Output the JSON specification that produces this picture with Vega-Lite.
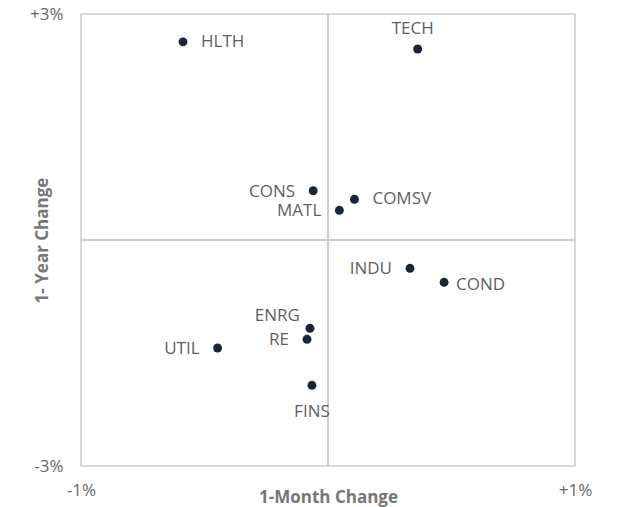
{
  "$schema": "https://vega.github.io/schema/vega-lite/v6.json",
  "autosize": {"type": "none"},
  "padding": {"left": 81, "top": 14, "right": 46, "bottom": 41},
  "width": 494,
  "height": 452,
  "background": "white",
  "config": {
    "view": {"stroke": "#cccccc", "strokeWidth": 1.5},
    "font": "Open Sans",
    "axis": {"grid": false, "ticks": false, "domain": false, "labelFont": "Open Sans", "labelFontSize": 17, "labelColor": "#666666", "titleFont": "Open Sans", "titleFontSize": 17, "titleFontWeight": "bold", "titleColor": "#777777"}
  },
  "data": {
    "values": [
      {"sector": "HLTH", "m1": -0.587, "y1": 2.63},
      {"sector": "TECH", "m1": 0.363, "y1": 2.535},
      {"sector": "CONS", "m1": -0.06, "y1": 0.654},
      {"sector": "COMSV", "m1": 0.107, "y1": 0.54},
      {"sector": "MATL", "m1": 0.046, "y1": 0.394},
      {"sector": "INDU", "m1": 0.332, "y1": -0.376},
      {"sector": "COND", "m1": 0.47, "y1": -0.562},
      {"sector": "ENRG", "m1": -0.073, "y1": -1.172},
      {"sector": "RE", "m1": -0.085, "y1": -1.318},
      {"sector": "UTIL", "m1": -0.447, "y1": -1.434},
      {"sector": "FINS", "m1": -0.065, "y1": -1.929}
    ]
  },
  "encoding": {
    "x": {
      "field": "m1", "type": "quantitative",
      "scale": {"domain": [-1, 1], "nice": false, "zero": false},
      "axis": {"values": [-1, 1], "labelExpr": "datum.value > 0 ? '+' + datum.value + '%' : datum.value + '%'", "labelFlush": false, "labelPadding": 16, "title": "1-Month Change", "titleY": 31, "titleBaseline": "middle", "titleX": 247}
    },
    "y": {
      "field": "y1", "type": "quantitative",
      "scale": {"domain": [-3, 3], "nice": false, "zero": false},
      "axis": {"values": [-3, 3], "labelExpr": "datum.value > 0 ? '+' + datum.value + '%' : datum.value + '%'", "labelPadding": 18, "title": "1- Year Change", "titleX": -39, "titleY": 226, "titleBaseline": "middle"}
    }
  },
  "layer": [
    {"mark": {"type": "rule", "color": "#cccccc", "strokeWidth": 1.5}, "encoding": {"x": {"datum": 0}, "y": null}},
    {"mark": {"type": "rule", "color": "#cccccc", "strokeWidth": 1.5}, "encoding": {"y": {"datum": 0}, "x": null}},
    {"mark": {"type": "circle", "size": 80, "opacity": 1, "color": "#1c2534"}},
    {
      "transform": [{"filter": {"field": "sector", "oneOf": ["HLTH", "COMSV"]}}],
      "mark": {"type": "text", "align": "left", "baseline": "middle", "dx": 18, "fontSize": 17, "color": "#5f5f5f"},
      "encoding": {"text": {"field": "sector"}}
    },
    {
      "transform": [{"filter": {"field": "sector", "oneOf": ["COND"]}}],
      "mark": {"type": "text", "align": "left", "baseline": "middle", "dx": 12, "dy": 3, "fontSize": 17, "color": "#5f5f5f"},
      "encoding": {"text": {"field": "sector"}}
    },
    {
      "transform": [{"filter": {"field": "sector", "oneOf": ["CONS", "MATL", "INDU", "RE", "UTIL"]}}],
      "mark": {"type": "text", "align": "right", "baseline": "middle", "dx": -18, "dy": 1, "fontSize": 17, "color": "#5f5f5f"},
      "encoding": {"text": {"field": "sector"}}
    },
    {
      "transform": [{"filter": {"field": "sector", "oneOf": ["ENRG"]}}],
      "mark": {"type": "text", "align": "right", "baseline": "middle", "dx": -10, "dy": -12, "fontSize": 17, "color": "#5f5f5f"},
      "encoding": {"text": {"field": "sector"}}
    },
    {
      "transform": [{"filter": {"field": "sector", "oneOf": ["TECH"]}}],
      "mark": {"type": "text", "align": "center", "baseline": "middle", "dx": -5, "dy": -20, "fontSize": 17, "color": "#5f5f5f"},
      "encoding": {"text": {"field": "sector"}}
    },
    {
      "transform": [{"filter": {"field": "sector", "oneOf": ["FINS"]}}],
      "mark": {"type": "text", "align": "center", "baseline": "middle", "dx": 0, "dy": 27, "fontSize": 17, "color": "#5f5f5f"},
      "encoding": {"text": {"field": "sector"}}
    }
  ]
}
